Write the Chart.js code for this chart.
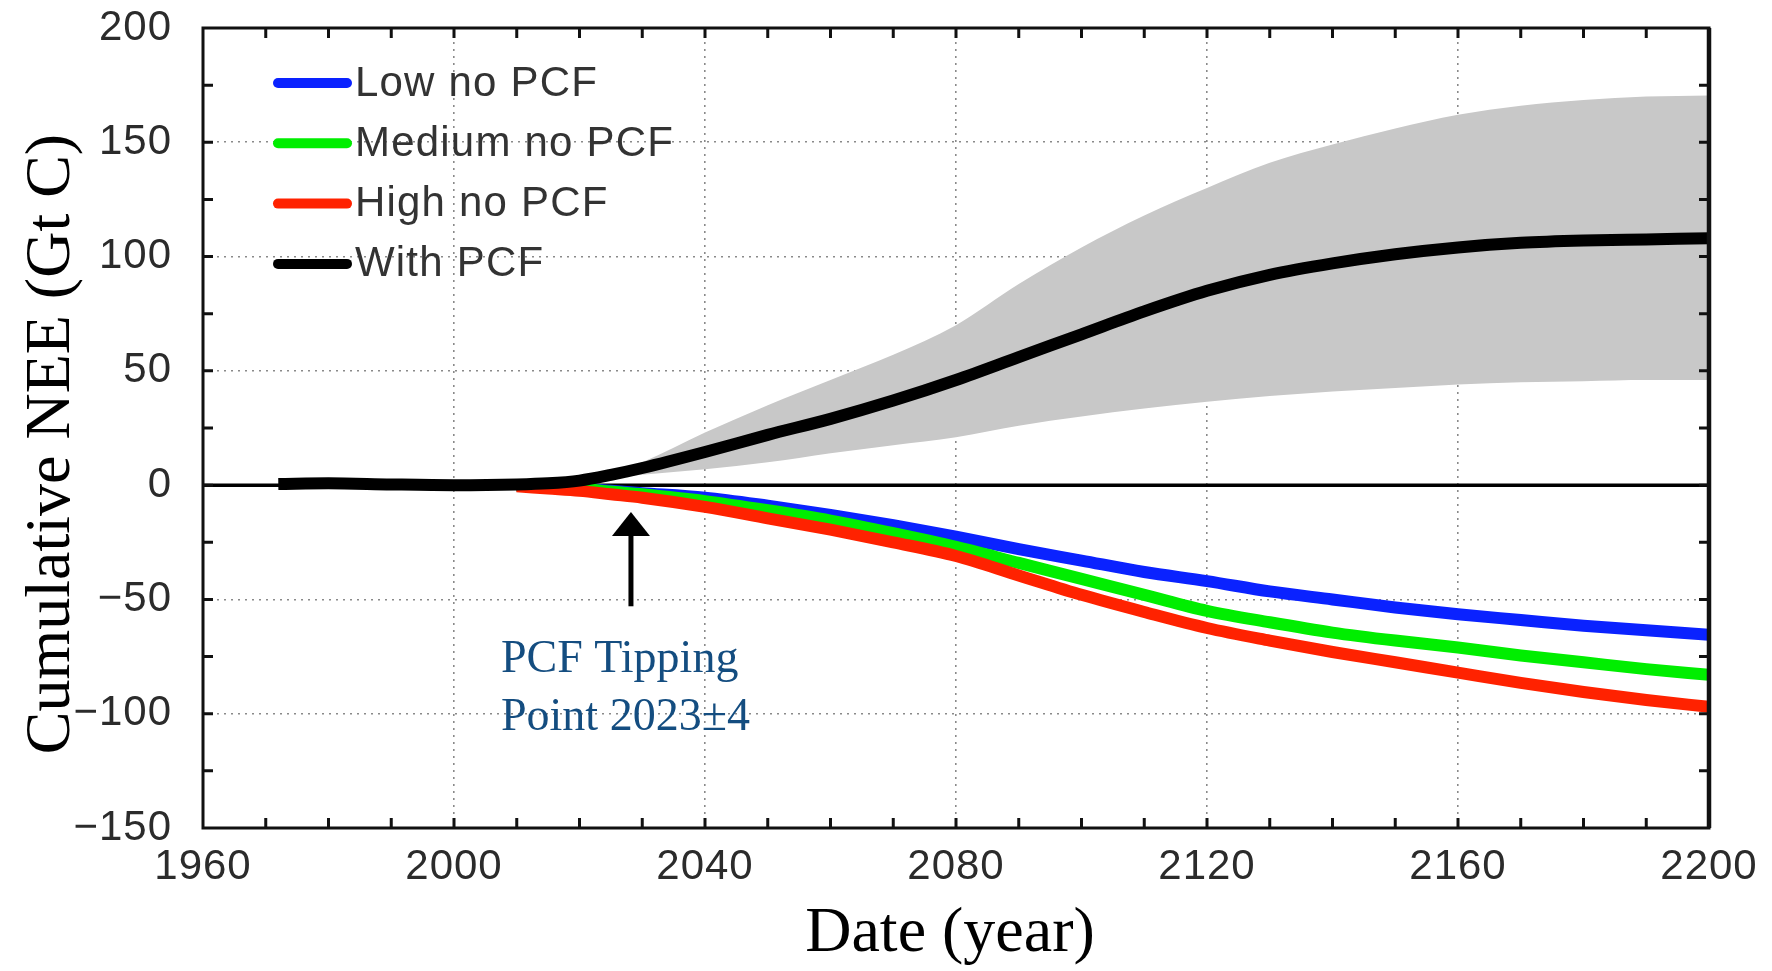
<!DOCTYPE html>
<html>
<head>
<meta charset="utf-8">
<script src="https://cdn.jsdelivr.net/npm/chart.js@4.4.1/dist/chart.umd.min.js"></script>
<style>
  html, body { margin: 0; padding: 0; background: #fff; }
  canvas { display: block; }
</style>
</head>
<body>
<canvas id="neeChart" width="1772" height="971"></canvas>
<script>
// values (Gt C)
const years = [1972, 1980, 1990, 2000, 2010, 2015, 2020, 2025, 2030, 2040, 2050, 2060, 2070,
               2080, 2090, 2100, 2110, 2120, 2130, 2140, 2150, 2160, 2170, 2180, 2190, 2200];
const withPCF = [0.5, 0.8, 0.3, 0, 0.3, 0.8, 2, 4.5, 7.5, 14.5, 22, 29, 37,
                 46, 56, 66, 76, 85, 92, 97, 101, 104, 106, 107, 107.5, 108];
const lowNoPCF = [null, null, null, null, 0, -0.8, -1.5, -2.5, -3.5, -5.5, -9, -13, -17.5,
                  -22.5, -28, -33, -38, -42, -46.5, -50, -53.5, -56.5, -59, -61.5, -63.5, -65.5];
const medNoPCF = [null, null, null, null, 0, -0.8, -1.5, -2.8, -4, -7, -11, -15.5, -21,
                  -27, -34, -41, -48, -55, -60, -64.5, -68, -71, -74.5, -77.5, -80.5, -83];
const highNoPCF = [null, null, null, null, -0.5, -1.5, -2.5, -4, -5.5, -9.5, -14.5, -19.5, -25,
                   -31, -39.5, -48, -55.5, -62.5, -68, -73, -77.5, -82, -86.5, -90.5, -94, -97];
const bandUpper = [null, null, null, null, null, null, 1, 5, 10, 23, 35, 46, 57,
                   70, 88, 104, 118, 130, 141, 149, 156, 162, 166, 168.5, 170, 170.5];
const bandLower = [null, null, null, null, null, null, 1, 3, 4.5, 7, 10, 14, 17.5,
                   21, 26, 30, 33.5, 36.5, 39, 41, 42.5, 44, 45, 45.5, 46, 46];

const xTicks = [1960, 2000, 2040, 2080, 2120, 2160, 2200];
const yTicks = [-150, -100, -50, 0, 50, 100, 150, 200];
const xTitle = 'Date (year)';
const yTitle = 'Cumulative NEE (Gt C)';
const tipText = ['PCF Tipping', 'Point 2023\u00b14'];
const tipArrow = { year: 2028.2, from: -53, to: -11.8 };

const sans = '"Liberation Sans", Arial, Helvetica, sans-serif';
const serif = '"Liberation Serif", "Times New Roman", serif';

function pts(vals) {
  return years.map((yr, i) => ({ x: yr, y: vals[i] }));
}

function line(label, vals, color) {
  return {
    label: label, data: pts(vals), borderColor: color, backgroundColor: color,
    borderWidth: 12, pointRadius: 0, cubicInterpolationMode: 'monotone', fill: false
  };
}

// index 0 is drawn on top, the band (last) underneath
const datasets = [
  line('With PCF', withPCF, '#000000'),
  line('High no PCF', highNoPCF, '#ff2200'),
  line('Medium no PCF', medNoPCF, '#00ee00'),
  line('Low no PCF', lowNoPCF, '#0a22ff'),
  { label: 'band upper', data: pts(bandUpper), borderWidth: 0, pointRadius: 0,
    cubicInterpolationMode: 'monotone', fill: '+1', backgroundColor: '#c8c8c8' },
  { label: 'band lower', data: pts(bandLower), borderWidth: 0, pointRadius: 0,
    cubicInterpolationMode: 'monotone', fill: false }
];
const legendOrder = [3, 2, 1, 0];

const frame = {
  id: 'frame',
  beforeDraw(chart) {
    chart.ctx.letterSpacing = '1px';
  },
  beforeDatasetsDraw(chart) {
    const { ctx, chartArea: a, scales: { y } } = chart;
    ctx.letterSpacing = '0px';
    const y0 = y.getPixelForValue(0);
    ctx.save();
    ctx.strokeStyle = '#000';
    ctx.lineWidth = 3.5;
    ctx.beginPath();
    ctx.moveTo(a.left, y0);
    ctx.lineTo(a.right, y0);
    ctx.stroke();
    ctx.restore();
  },
  afterDraw(chart) {
    const { ctx, chartArea: a, scales: { x, y } } = chart;
    ctx.save();
    ctx.letterSpacing = '0px';

    // box
    ctx.strokeStyle = '#111';
    ctx.lineWidth = 3;
    ctx.strokeRect(a.left, a.top, a.right - a.left, a.bottom - a.top);
    ctx.lineWidth = 4.5;
    ctx.beginPath();
    ctx.moveTo(a.right, a.top);
    ctx.lineTo(a.right, a.bottom);
    ctx.stroke();

    // inward ticks
    ctx.lineWidth = 3;
    ctx.beginPath();
    for (let v = x.min + 10; v < x.max; v += 10) {
      const px = x.getPixelForValue(v);
      ctx.moveTo(px, a.bottom); ctx.lineTo(px, a.bottom - 10);
      ctx.moveTo(px, a.top); ctx.lineTo(px, a.top + 10);
    }
    for (let v = y.min + 25; v < y.max; v += 25) {
      const py = y.getPixelForValue(v);
      ctx.moveTo(a.left, py); ctx.lineTo(a.left + 10, py);
      ctx.moveTo(a.right, py); ctx.lineTo(a.right - 10, py);
    }
    ctx.stroke();

    // legend
    ctx.font = '42px ' + sans;
    ctx.letterSpacing = '1.2px';
    ctx.textBaseline = 'middle';
    ctx.textAlign = 'left';
    legendOrder.forEach((di, i) => {
      const ds = chart.data.datasets[di];
      const ly = a.top + 55 + i * 60.3;
      ctx.strokeStyle = ds.borderColor;
      ctx.lineWidth = 10;
      ctx.lineCap = 'round';
      ctx.beginPath();
      ctx.moveTo(a.left + 75, ly);
      ctx.lineTo(a.left + 144, ly);
      ctx.stroke();
      ctx.fillStyle = '#333';
      ctx.fillText(ds.label, a.left + 152, ly + 1);
    });
    ctx.letterSpacing = '0px';

    // tipping point arrow and note
    const ax = x.getPixelForValue(tipArrow.year);
    const yTip = y.getPixelForValue(tipArrow.to);
    const yEnd = y.getPixelForValue(tipArrow.from);
    ctx.strokeStyle = '#000';
    ctx.fillStyle = '#000';
    ctx.lineCap = 'butt';
    ctx.lineWidth = 5;
    ctx.beginPath();
    ctx.moveTo(ax, yEnd);
    ctx.lineTo(ax, yTip + 20);
    ctx.stroke();
    ctx.beginPath();
    ctx.moveTo(ax, yTip);
    ctx.lineTo(ax - 19, yTip + 24);
    ctx.lineTo(ax + 19, yTip + 24);
    ctx.closePath();
    ctx.fill();

    ctx.font = '46px ' + serif;
    ctx.fillStyle = '#144d80';
    ctx.textBaseline = 'alphabetic';
    ctx.fillText(tipText[0], a.left + 298, a.top + 644);
    ctx.fillText(tipText[1], a.left + 298, a.top + 702);

    // axis titles
    ctx.fillStyle = '#000';
    ctx.font = '64px ' + serif;
    ctx.textAlign = 'center';
    ctx.textBaseline = 'middle';
    ctx.fillText(xTitle, (a.left + a.right) / 2 - 6, 934);
    ctx.translate(52, 444);
    ctx.rotate(-Math.PI / 2);
    ctx.fillText(yTitle, 0, 0);
    ctx.restore();
  }
};

new Chart(document.getElementById('neeChart'), {
  type: 'line',
  data: { datasets: datasets },
  options: {
    responsive: false,
    animation: false,
    events: [],
    layout: { padding: { top: 28, right: 63, left: 0, bottom: 0 } },
    plugins: { legend: { display: false }, tooltip: { enabled: false } },
    scales: {
      x: {
        type: 'linear', min: 1960, max: 2200,
        afterBuildTicks: s => { s.ticks = xTicks.map(v => ({ value: v })); },
        afterFit: s => { s.height = 143; s.paddingLeft = 0; s.paddingRight = 0; },
        ticks: { font: { family: sans, size: 42 }, color: '#2b2b2b', padding: 14,
                 maxRotation: 0, autoSkip: false, callback: v => String(v) },
        grid: {
          drawTicks: false, lineWidth: 1.6,
          color: c => (c.tick && (c.tick.value === 1960 || c.tick.value === 2200)) ? 'rgba(0,0,0,0)' : '#8a8a8a'
        },
        border: { display: false, dash: [2, 5] }
      },
      y: {
        type: 'linear', min: -150, max: 200,
        afterBuildTicks: s => { s.ticks = yTicks.map(v => ({ value: v })); },
        afterFit: s => { s.width = 203; s.paddingTop = 0; s.paddingBottom = 0; },
        ticks: { font: { family: sans, size: 42 }, color: '#2b2b2b', padding: 31,
                 callback: v => v < 0 ? '\u2212' + Math.abs(v) : String(v) },
        grid: {
          drawTicks: false, lineWidth: 1.6,
          color: c => (c.tick && [0, 200, -150].includes(c.tick.value)) ? 'rgba(0,0,0,0)' : '#8a8a8a'
        },
        border: { display: false, dash: [2, 5] }
      }
    }
  },
  plugins: [frame]
});
</script>
</body>
</html>
